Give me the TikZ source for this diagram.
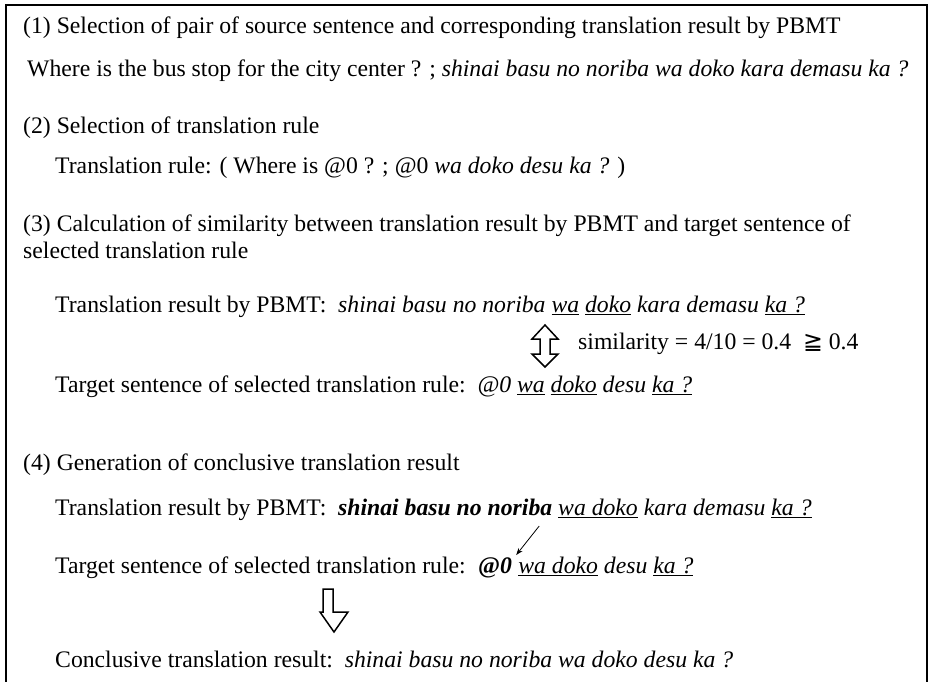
\documentclass[tikz,border=0pt]{standalone}
\usepackage{fontspec}
\usetikzlibrary{arrows.meta}
\setmainfont{Liberation Serif}
\newfontfamily\symfont{DejaVu Sans}
\newcommand{\ulit}[1]{\leavevmode\vtop{\hbox{\textit{#1}}\kern1.8pt\hrule height 1.3pt}}
\begin{document}
\begin{tikzpicture}[x=1pt,y=-1pt,
  txt/.style={anchor=base west, inner sep=0pt, font=\fontsize{23.7}{27.3}\selectfont},
  frame/.style={line width=1.4pt},
  openarrow/.style={draw, line width=1.5pt, fill=white, line join=miter},
  ptr/.style={-{Stealth[length=7pt,width=5pt]}, line width=0.8pt}]
\useasboundingbox (0,0) rectangle (929,682);
\draw[frame] (6,690) -- (6,5) -- (927,5) -- (927,690);

\node[txt] (s1) at (23,34) {(1) Selection of pair of source sentence and corresponding translation result by PBMT};
\node[txt] (s1b) at (27,77) {Where is the bus stop for the city center ? ; \textit{shinai basu no noriba wa doko kara demasu ka ?}};

\node[txt] (s2) at (23,134) {(2) Selection of translation rule};
\node[txt] (s2b) at (55,174) {Translation rule: ( Where is @0 ? ; @0 \textit{wa doko desu ka ?} )};

\node[txt] (s3) at (23,231) {(3) Calculation of similarity between translation result by PBMT and target sentence of};
\node[txt] (s3a) at (23,258) {selected translation rule};
\node[txt] (s3b) at (55,312) {Translation result by PBMT:\ \ \textit{shinai basu no noriba} \ulit{wa} \ulit{doko} \textit{kara demasu} \ulit{ka ?}};
\node[txt] (sim) at (578,349) {similarity = 4/10 = 0.4\ \ {\symfont ≧} 0.4};
\node[txt] (s3c) at (55,392) {Target sentence of selected translation rule:\ \ \textit{@0} \ulit{wa} \ulit{doko} \textit{desu} \ulit{ka ?}};

\draw[openarrow] (545,325) -- (558,339) -- (550,339) -- (550,354) -- (558,354) -- (545,367)
  -- (532,354) -- (540,354) -- (540,339) -- (532,339) -- cycle;

\node[txt] (s4) at (23,470) {(4) Generation of conclusive translation result};
\node[txt] (s4a) at (55,515) {Translation result by PBMT:\ \ \textbf{\textit{shinai basu no noriba}} \ulit{wa doko} \textit{kara demasu} \ulit{ka ?}};
\node[txt] (s4b) at (55,573) {Target sentence of selected translation rule:};
\node[txt] (at0) at ([xshift=12pt]s4b.base east) {\textbf{@\textit{0}}};
\node[txt] (s4c) at ([xshift=6pt]at0.base east) {\ulit{wa doko} \textit{desu} \ulit{ka ?}};
\coordinate (ptrtop) at ([xshift=27pt,yshift=31pt]at0.north east);
\draw[ptr] (ptrtop) -- ([xshift=4pt,yshift=2pt]at0.north east);

\draw[openarrow] (323,589) -- (333,589) -- (333,612) -- (348,612) -- (334,632) -- (320,612) -- (323,612) -- cycle;

\node[txt] (s5) at (55,667) {Conclusive translation result:\ \ \textit{shinai basu no noriba wa doko desu ka ?}};
\end{tikzpicture}
\end{document}
